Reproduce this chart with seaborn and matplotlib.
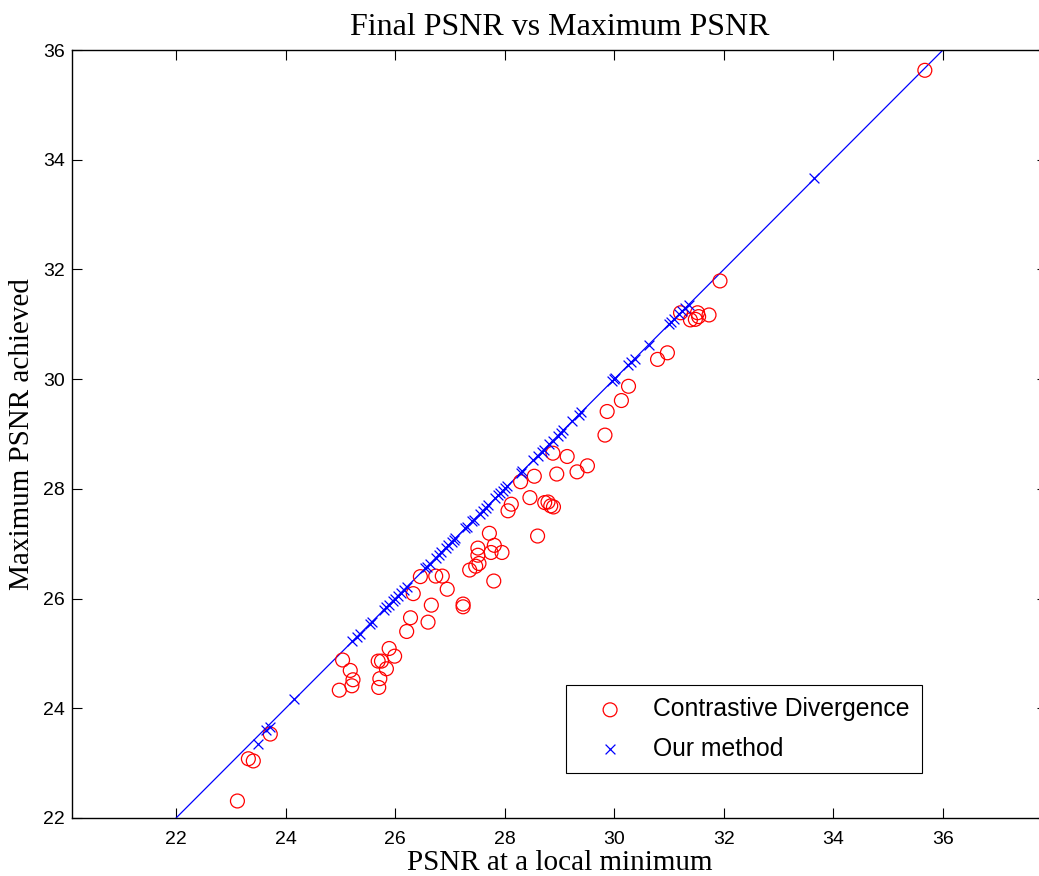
import matplotlib
matplotlib.use('Agg')
import matplotlib.pyplot as plt
from matplotlib.ticker import MultipleLocator
import seaborn as sns
import pandas as pd

# Contrastive Divergence (red circles)
cd_x = [23.12, 23.32, 23.41, 23.72, 24.98, 25.04, 25.18, 25.23, 25.21, 25.69,
        25.75, 25.84, 25.72, 25.70, 25.89, 25.99, 26.21, 26.28, 26.60, 26.66,
        26.33, 26.46, 26.74, 26.86, 26.95, 27.24, 27.24, 27.36, 27.47, 27.53,
        27.51, 27.51, 27.72, 27.81, 27.75, 27.95, 27.80, 28.06, 28.12, 28.29,
        28.46, 28.54, 28.60, 28.73, 28.79, 28.84, 28.89, 28.95, 28.88, 29.14,
        29.32, 29.51, 29.83, 29.87, 30.13, 30.26, 30.79, 30.97, 31.21, 31.39,
        31.48, 31.52, 31.54, 31.73, 31.93, 35.67]
cd_y = [22.31, 23.08, 23.04, 23.53, 24.33, 24.88, 24.69, 24.52, 24.41, 24.86,
        24.86, 24.72, 24.54, 24.38, 25.09, 24.95, 25.40, 25.65, 25.57, 25.88,
        26.09, 26.40, 26.41, 26.41, 26.17, 25.90, 25.85, 26.52, 26.59, 26.64,
        26.79, 26.92, 27.19, 26.97, 26.84, 26.84, 26.32, 27.60, 27.72, 28.13,
        27.84, 28.23, 27.14, 27.75, 27.76, 27.69, 27.67, 28.27, 28.65, 28.59,
        28.31, 28.42, 28.98, 29.41, 29.61, 29.87, 30.36, 30.48, 31.21, 31.08,
        31.09, 31.21, 31.14, 31.17, 31.79, 35.63]

# Our method (blue crosses)
om_x = [23.50, 23.65, 23.72, 24.16, 25.22, 25.30, 25.35, 25.54, 25.58, 25.79,
        25.84, 25.88, 25.96, 26.00, 26.05, 26.10, 26.16, 26.21, 26.55, 26.58,
        26.63, 26.74, 26.80, 26.84, 26.92, 26.97, 27.04, 27.07, 27.10, 27.28,
        27.31, 27.41, 27.44, 27.55, 27.60, 27.65, 27.70, 27.83, 27.88, 27.92,
        27.96, 28.01, 28.05, 28.29, 28.32, 28.52, 28.60, 28.68, 28.71, 28.81,
        28.88, 28.97, 29.02, 29.07, 29.23, 29.35, 29.40, 29.96, 30.00, 30.02,
        30.25, 30.31, 30.37, 30.63, 31.00, 31.04, 31.09, 31.18, 31.24, 31.30,
        31.36, 33.64]
om_y = [23.35, 23.60, 23.66, 24.17, 25.22, 25.30, 25.35, 25.54, 25.58, 25.79,
        25.84, 25.88, 25.96, 26.00, 26.05, 26.10, 26.16, 26.21, 26.55, 26.58,
        26.63, 26.74, 26.80, 26.84, 26.92, 26.97, 27.04, 27.07, 27.10, 27.28,
        27.31, 27.41, 27.44, 27.55, 27.60, 27.65, 27.70, 27.83, 27.88, 27.92,
        27.96, 28.01, 28.05, 28.29, 28.32, 28.52, 28.60, 28.68, 28.71, 28.81,
        28.88, 28.97, 29.02, 29.07, 29.23, 29.35, 29.40, 29.96, 30.00, 30.02,
        30.25, 30.31, 30.37, 30.63, 31.00, 31.04, 31.09, 31.18, 31.24, 31.30,
        31.36, 33.67]

# diagonal y = x
diag = [22, 36]

df_cd = pd.DataFrame({'x': cd_x, 'y': cd_y})
df_om = pd.DataFrame({'x': om_x, 'y': om_y})

sns.set_style('white')
plt.rcParams['font.family'] = ['Liberation Sans', 'DejaVu Sans']
plt.rcParams['text.color'] = 'black'
plt.rcParams['axes.labelcolor'] = 'black'
plt.rcParams['xtick.color'] = 'black'
plt.rcParams['ytick.color'] = 'black'

fig = plt.figure(figsize=(10.39, 8.76), dpi=100)
ax = fig.add_axes([72/1039, 58/876, 975/1039, 768/876])

ax.plot(diag, diag, color='blue', linewidth=0.9, zorder=1)
sns.scatterplot(data=df_cd, x='x', y='y', ax=ax, marker='o', s=100,
                facecolors='none', edgecolor='red', linewidth=0.9,
                label='Contrastive Divergence', zorder=2)
sns.scatterplot(data=df_om, x='x', y='y', ax=ax, marker='x', s=50,
                color='blue', linewidth=0.9, label='Our method', zorder=3)

ax.set_xlim(20.1, 37.9)
ax.set_ylim(22, 36)
ax.yaxis.set_major_locator(MultipleLocator(2))
ax.set_xticks([22, 24, 26, 28, 30, 32, 34, 36])

for sp in ax.spines.values():
    sp.set_visible(True)
    sp.set_color('black')
    sp.set_linewidth(1.0)
ax.spines['right'].set_visible(False)

ax.tick_params(axis='both', which='major', direction='in', length=7, width=0.8,
               labelsize=14, top=True, right=True, bottom=True, left=True)
ax.tick_params(axis='x', pad=9)
ax.tick_params(axis='y', pad=5)

ax.set_title('Final PSNR vs Maximum PSNR', family='Liberation Serif',
             fontsize=23, pad=11)
ax.set_xlabel('PSNR at a local minimum', family='Liberation Serif',
              fontsize=21, labelpad=2)
ax.set_ylabel('Maximum PSNR achieved', family='Liberation Serif',
              fontsize=21, labelpad=6)

leg = ax.legend(loc='lower right', bbox_to_anchor=(0.872, 0.0586),
                borderaxespad=0, fancybox=False, framealpha=1,
                edgecolor='black', fontsize=17.8, handletextpad=0.45,
                borderpad=0.5, labelspacing=0.62, handlelength=2.6)
leg.get_frame().set_linewidth(0.8)

fig.savefig('out.png', dpi=100)
